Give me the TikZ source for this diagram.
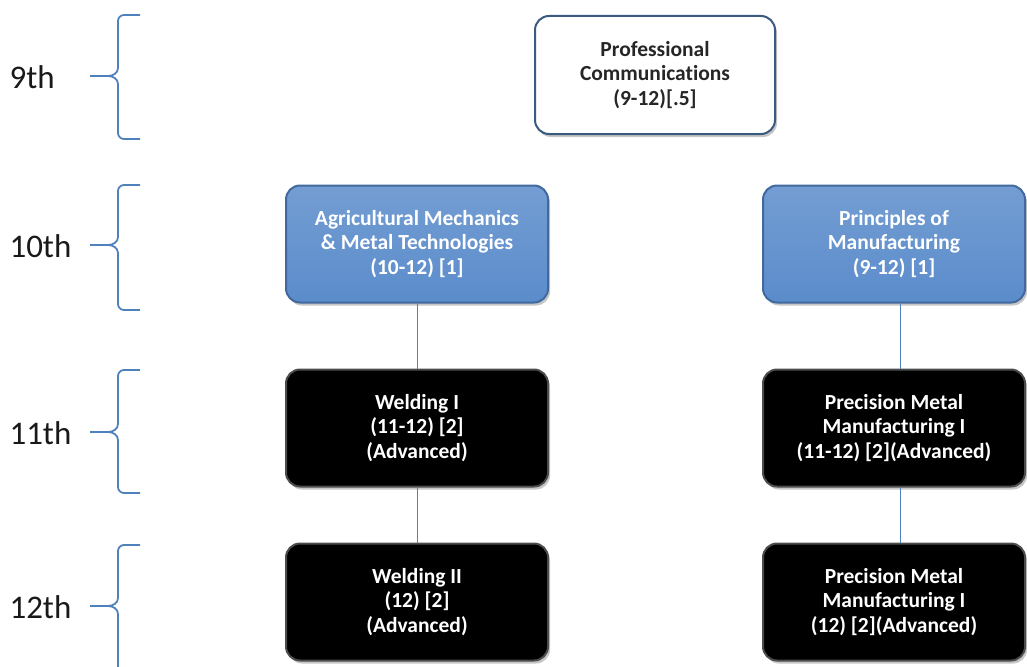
\documentclass[tikz,border=0pt]{standalone}
\usepackage{fontspec}
\setmainfont[Ligatures={NoCommon}]{Carlito}
\usetikzlibrary{shadows}
\definecolor{bluefill}{HTML}{5B8CCB}
\definecolor{blueedge}{HTML}{41699E}
\definecolor{bracecol}{HTML}{4F81BD}
\definecolor{graybord}{HTML}{3A5A80}
\begin{document}
\begin{tikzpicture}[x=1pt,y=-1pt,
  box/.style={rounded corners=14pt, minimum width=262pt, minimum height=117pt, align=center,
    font=\fontsize{21.5}{24.3}\selectfont\bfseries, line width=2pt,
    drop shadow={shadow xshift=2pt, shadow yshift=-3pt, opacity=0.45}},
  whitebox/.style={box, draw=graybord, fill=white, text=black!85, minimum width=240pt, minimum height=118pt},
  bluebox/.style={box, draw=blueedge, top color=bluefill!85!white, bottom color=bluefill, text=white},
  blackbox/.style={box, draw=black!70, fill=black, text=white},
  conn/.style={draw=bracecol, line width=0.8pt},
  brace/.style={draw=bracecol, line width=1.8pt, line join=round},
  grade/.style={font=\fontsize{33}{36}\selectfont, anchor=west, text=black!90}
]
\useasboundingbox (0,0) rectangle (1027,666);

\node[whitebox] (pc) at (655,75) {Professional\\Communications\\(9-12)[.5]};
\node[bluebox] (am) at (417,244) {Agricultural Mechanics\\\& Metal Technologies\\(10-12) [1]};
\node[bluebox] (pm) at (894,244) {Principles of\\Manufacturing\\(9-12) [1]};
\node[blackbox] (w1) at (417,428) {Welding I\\(11-12) [2]\\(Advanced)};
\node[blackbox] (p1) at (894,428) {Precision Metal\\Manufacturing I\\(11-12) [2](Advanced)};
\node[blackbox] (w2) at (417,602) {Welding II\\(12) [2]\\(Advanced)};
\node[blackbox] (p2) at (894,602) {Precision Metal\\Manufacturing I\\(12) [2](Advanced)};

\draw[conn] (am.south) -- (w1.north);
\draw[conn] (w1.south) -- (w2.north);
\draw[conn] ([xshift=6pt]pm.south) -- ([xshift=6pt]p1.north);
\draw[conn] ([xshift=6pt]p1.south) -- ([xshift=6pt]p2.north);

\node[grade] (g9) at (6,77) {9th};
\node[grade] (g10) at (6,246) {10th};
\node[grade] (g11) at (6,433) {11th};
\node[grade] (g12) at (6,607) {12th};

\coordinate (b9) at (90,76);
\coordinate (b10) at (90,245);
\coordinate (b11) at (90,432);
\coordinate (b12) at (90,606);

\draw[brace] (140,15) -- (124,15) to[out=180,in=90] (118,21) -- (118,68) to[out=-90,in=0] (108,76) -- (b9) (108,76) to[out=0,in=90] (118,84) -- (118,133) to[out=-90,in=180] (124,139) -- (140,139);
\draw[brace] (140,185) -- (124,185) to[out=180,in=90] (118,191) -- (118,237) to[out=-90,in=0] (108,245) -- (b10) (108,245) to[out=0,in=90] (118,253) -- (118,304) to[out=-90,in=180] (124,310) -- (140,310);
\draw[brace] (140,370) -- (124,370) to[out=180,in=90] (118,376) -- (118,424) to[out=-90,in=0] (108,432) -- (b11) (108,432) to[out=0,in=90] (118,440) -- (118,487) to[out=-90,in=180] (124,493) -- (140,493);
\draw[brace] (140,545) -- (124,545) to[out=180,in=90] (118,551) -- (118,598) to[out=-90,in=0] (108,606) -- (b12) (108,606) to[out=0,in=90] (118,614) -- (118,668);
\end{tikzpicture}
\end{document}
